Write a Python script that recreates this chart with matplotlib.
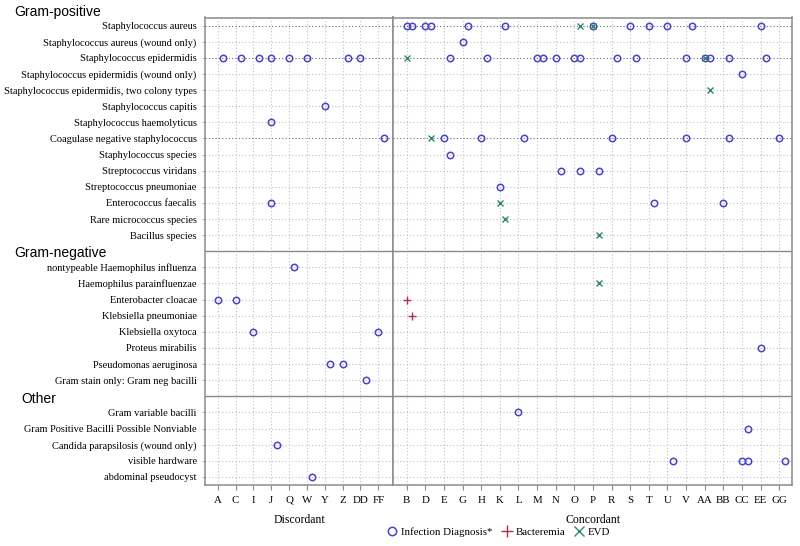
import matplotlib
matplotlib.use('Agg')
import matplotlib.pyplot as plt
from matplotlib.lines import Line2D
import matplotlib.transforms as mtransforms

# subjects in each panel
discordant = ['A', 'C', 'I', 'J', 'Q', 'W', 'Y', 'Z', 'DD', 'FF']
concordant = ['B', 'D', 'E', 'G', 'H', 'K', 'L', 'M', 'N', 'O', 'P', 'R', 'S',
              'T', 'U', 'V', 'AA', 'BB', 'CC', 'EE', 'GG']

gram_positive = ['Staphylococcus aureus',
                 'Staphylococcus aureus (wound only)',
                 'Staphylococcus epidermidis',
                 'Staphylococcus epidermidis (wound only)',
                 'Staphylococcus epidermidis, two colony types',
                 'Staphylococcus capitis',
                 'Staphylococcus haemolyticus',
                 'Coagulase negative staphylococcus',
                 'Staphylococcus species',
                 'Streptococcus viridans',
                 'Streptococcus pneumoniae',
                 'Enterococcus faecalis',
                 'Rare micrococcus species',
                 'Bacillus species']
gram_negative = ['nontypeable Haemophilus influenza',
                 'Haemophilus parainfluenzae',
                 'Enterobacter cloacae',
                 'Klebsiella pneumoniae',
                 'Klebsiella oxytoca',
                 'Proteus mirabilis',
                 'Pseudomonas aeruginosa',
                 'Gram stain only: Gram neg bacilli']
other = ['Gram variable bacilli',
         'Gram Positive Bacilli Possible Nonviable',
         'Candida parapsilosis (wound only)',
         'visible hardware',
         'abdominal pseudocyst']

# rows drawn with a darker reference line
common = ['Staphylococcus aureus', 'Staphylococcus epidermidis',
          'Coagulase negative staphylococcus']

# (organism, subject, slot) - slot 1 = second record for that subject
infection_diagnosis = [
    ('Staphylococcus epidermidis', 'A', 1), ('Staphylococcus epidermidis', 'C', 1),
    ('Staphylococcus epidermidis', 'I', 1), ('Staphylococcus epidermidis', 'J', 0),
    ('Staphylococcus epidermidis', 'Q', 0), ('Staphylococcus epidermidis', 'W', 0),
    ('Staphylococcus epidermidis', 'Z', 1), ('Staphylococcus epidermidis', 'DD', 0),
    ('Staphylococcus capitis', 'Y', 0),
    ('Staphylococcus haemolyticus', 'J', 0),
    ('Coagulase negative staphylococcus', 'FF', 1),
    ('Enterococcus faecalis', 'J', 0),
    ('nontypeable Haemophilus influenza', 'Q', 1),
    ('Enterobacter cloacae', 'A', 0), ('Enterobacter cloacae', 'C', 0),
    ('Klebsiella oxytoca', 'I', 0), ('Klebsiella oxytoca', 'FF', 0),
    ('Pseudomonas aeruginosa', 'Y', 1), ('Pseudomonas aeruginosa', 'Z', 0),
    ('Gram stain only: Gram neg bacilli', 'DD', 1),
    ('Candida parapsilosis (wound only)', 'J', 1),
    ('abdominal pseudocyst', 'W', 1),
    ('Staphylococcus aureus', 'B', 0), ('Staphylococcus aureus', 'B', 1),
    ('Staphylococcus aureus', 'D', 0), ('Staphylococcus aureus', 'D', 1),
    ('Staphylococcus aureus', 'G', 1), ('Staphylococcus aureus', 'K', 1),
    ('Staphylococcus aureus', 'P', 0), ('Staphylococcus aureus', 'S', 0),
    ('Staphylococcus aureus', 'T', 0), ('Staphylococcus aureus', 'U', 0),
    ('Staphylococcus aureus', 'V', 1), ('Staphylococcus aureus', 'EE', 0),
    ('Staphylococcus aureus (wound only)', 'G', 0),
    ('Staphylococcus epidermidis', 'E', 1), ('Staphylococcus epidermidis', 'H', 1),
    ('Staphylococcus epidermidis', 'M', 0), ('Staphylococcus epidermidis', 'M', 1),
    ('Staphylococcus epidermidis', 'N', 0), ('Staphylococcus epidermidis', 'O', 0),
    ('Staphylococcus epidermidis', 'O', 1), ('Staphylococcus epidermidis', 'R', 1),
    ('Staphylococcus epidermidis', 'S', 1), ('Staphylococcus epidermidis', 'V', 0),
    ('Staphylococcus epidermidis', 'AA', 0), ('Staphylococcus epidermidis', 'AA', 1),
    ('Staphylococcus epidermidis', 'BB', 1), ('Staphylococcus epidermidis', 'EE', 1),
    ('Staphylococcus epidermidis (wound only)', 'CC', 0),
    ('Coagulase negative staphylococcus', 'E', 0),
    ('Coagulase negative staphylococcus', 'H', 0),
    ('Coagulase negative staphylococcus', 'L', 1),
    ('Coagulase negative staphylococcus', 'R', 0),
    ('Coagulase negative staphylococcus', 'V', 0),
    ('Coagulase negative staphylococcus', 'BB', 1),
    ('Coagulase negative staphylococcus', 'GG', 0),
    ('Staphylococcus species', 'E', 1),
    ('Streptococcus viridans', 'N', 1), ('Streptococcus viridans', 'O', 1),
    ('Streptococcus viridans', 'P', 1),
    ('Streptococcus pneumoniae', 'K', 0),
    ('Enterococcus faecalis', 'T', 1), ('Enterococcus faecalis', 'BB', 0),
    ('Proteus mirabilis', 'EE', 0),
    ('Gram variable bacilli', 'L', 0),
    ('Gram Positive Bacilli Possible Nonviable', 'CC', 1),
    ('visible hardware', 'U', 1), ('visible hardware', 'CC', 0),
    ('visible hardware', 'CC', 1), ('visible hardware', 'GG', 1),
]

bacteremia = [
    ('Enterobacter cloacae', 'B', 0),
    ('Klebsiella pneumoniae', 'B', 1),
]

evd = [
    ('Staphylococcus aureus', 'O', 1), ('Staphylococcus aureus', 'P', 0),
    ('Staphylococcus epidermidis', 'B', 0), ('Staphylococcus epidermidis', 'AA', 0),
    ('Staphylococcus epidermidis, two colony types', 'AA', 1),
    ('Coagulase negative staphylococcus', 'D', 1),
    ('Enterococcus faecalis', 'K', 0),
    ('Rare micrococcus species', 'K', 1),
    ('Bacillus species', 'P', 1),
    ('Haemophilus parainfluenzae', 'P', 1),
]

# row positions (one empty row for each group header)
fila = {}
pos = 0
for grupo in [gram_positive, gram_negative, other]:
    for org in grupo:
        fila[org] = pos
        pos += 1
    pos += 1
organismos = gram_positive + gram_negative + other

serif = 'Liberation Serif'
c_circ = '#4a44c4'
c_plus = '#b0304a'
c_x = '#2b8a70'
grid_light = '#c0c0c0'
grid_dark = '#6e6e6e'
frame = '#8a8a8a'

fig = plt.figure(figsize=(8, 5.46), dpi=100)
bottom = 1 - 485 / 546
height = (485 - 17.5) / 546
ax_d = fig.add_axes([205 / 800, bottom, (393.3 - 205) / 800, height])
ax_c = fig.add_axes([393.3 / 800, bottom, (792.3 - 393.3) / 800, height])

for ax, sujetos, xlim in [(ax_d, discordant, (-0.71, 9.84)),
                          (ax_c, concordant, (-0.72, 20.7))]:
    ax.set_xlim(*xlim)
    ax.set_ylim(28.5, -0.5)
    for i in range(len(sujetos)):
        ax.axvline(i, color=grid_light, lw=0.8, ls=(0, (1, 2)), zorder=1)
    for org in organismos:
        col = grid_dark if org in common else grid_light
        ax.axhline(fila[org], color=col, lw=0.8, ls=(0, (1, 2)), zorder=1)
    ax.axhline(14, color=frame, lw=1.0, zorder=2)
    ax.axhline(23, color=frame, lw=1.0, zorder=2)
    ax.set_xticks(range(len(sujetos)))
    ax.set_xticklabels(sujetos, family=serif, fontsize=7.8)
    ax.tick_params(axis='x', length=3.6, width=0.8, color=frame, pad=9.2)
    for lbl in ax.get_xticklabels():
        lbl.set_verticalalignment('baseline')
    for sp in ax.spines.values():
        sp.set_color(frame)
        sp.set_linewidth(1.1)

ax_c.set_yticks([])
ax_d.set_yticks([fila[o] for o in organismos])
ax_d.set_yticklabels(organismos, family=serif, fontsize=7.5)
ax_d.tick_params(axis='y', length=2, width=0.6, color='#b0b0b0', pad=4)


def dibujar(puntos, marker, color, ms, mew):
    for org, suj, slot in puntos:
        if suj in discordant:
            ax, x = ax_d, discordant.index(suj)
        else:
            ax, x = ax_c, concordant.index(suj)
        ax.plot(x + 0.3 * slot, fila[org], marker=marker, ms=ms, mew=mew,
                mfc='none', mec=color, ls='none', zorder=3)


dibujar(infection_diagnosis, 'o', c_circ, 4.6, 1.1)
dibujar(bacteremia, '+', c_plus, 6, 1.0)
dibujar(evd, 'x', c_x, 5, 1.0)

# group headers
trans = mtransforms.blended_transform_factory(fig.transFigure, ax_d.transData)
ax_d.text(14 / 800, -0.85, 'Gram-positive', transform=trans, family='Liberation Sans',
          fontsize=10, va='center', ha='left', clip_on=False)
ax_d.text(14 / 800, 14.1, 'Gram-negative', transform=trans, family='Liberation Sans',
          fontsize=10, va='center', ha='left', clip_on=False)
ax_d.text(21 / 800, 23.15, 'Other', transform=trans, family='Liberation Sans',
          fontsize=10, va='center', ha='left', clip_on=False)

fig.text(299 / 800, 1 - 520 / 546, 'Discordant', family=serif, fontsize=8.5,
         ha='center', va='center')
fig.text(593 / 800, 1 - 520 / 546, 'Concordant', family=serif, fontsize=8.5,
         ha='center', va='center')

handles = [Line2D([], [], marker='o', mfc='none', mec=c_circ, ls='none', ms=6, mew=1.1),
           Line2D([], [], marker='+', mec=c_plus, ls='none', ms=8, mew=1.0),
           Line2D([], [], marker='x', mec=c_x, ls='none', ms=6.5, mew=1.0)]
fig.legend(handles, ['Infection Diagnosis*', 'Bacteremia', 'EVD'], ncol=3,
           loc='center', bbox_to_anchor=(498.5 / 800, 1 - 532 / 546), frameon=False,
           prop={'family': serif, 'size': 7.8}, handlelength=1.0, handletextpad=0.3,
           columnspacing=0.8, borderpad=0)

fig.savefig('out.png', dpi=100)
